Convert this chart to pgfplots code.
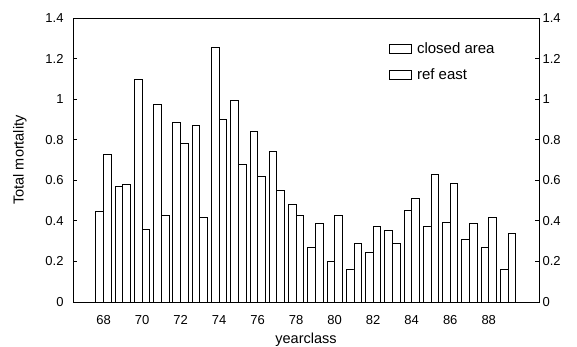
\documentclass[border=0pt]{standalone}
\usepackage{pgfplots}
\pgfplotsset{compat=1.18}
\usepackage{fontspec}
\setmainfont{Liberation Sans}
\pgfplotstableread{
year closed ref
68 0.448 0.728
69 0.568 0.577
70 1.097 0.357
71 0.973 0.427
72 0.883 0.782
73 0.871 0.418
74 1.253 0.898
75 0.995 0.679
76 0.843 0.618
77 0.741 0.550
78 0.481 0.427
79 0.268 0.385
80 0.201 0.427
81 0.160 0.288
82 0.242 0.371
83 0.351 0.288
84 0.453 0.509
85 0.371 0.631
86 0.392 0.583
87 0.310 0.385
88 0.268 0.418
89 0.160 0.338
}\mortality
\begin{document}
\begin{tikzpicture}
\path[use as bounding box] (0,0) rectangle (577bp,347bp);
\pgfplotsset{
  common/.style={
    at={(73bp,45bp)}, anchor=south west,
    scale only axis, width=466bp, height=284bp,
    xmin=66.41, xmax=90.61, ymin=0, ymax=1.4,
    ytick={0,0.2,0.4,0.6,0.8,1,1.2,1.4},
    /pgf/number format/assume math mode=true,
    tick label style={font=\fontsize{13bp}{15bp}\selectfont},
    axis line style={line width=0.9bp},
    tick style={line width=0.9bp, black},
    major tick length=4bp,
    tick align=inside,
  }
}
\begin{axis}[
  common,
  ytick pos=left,
  ybar=0pt, bar width=7.7bp,
  xtick={68,70,...,88},
  major x tick style={draw=none},
  xticklabel style={yshift=-6bp},
  yticklabel style={xshift=-6bp},
  xlabel={yearclass},
  ylabel={Total mortality},
  label style={font=\fontsize{14.5bp}{17bp}\selectfont},
  xlabel style={at={(axis description cs:0.5,-0.147)}, anchor=base},
  ylabel style={at={(axis description cs:-0.114,0.5)}, anchor=center},
  legend style={at={(axis description cs:0.678,0.922)}, anchor=north west,
    draw=none, fill=none, font=\fontsize{15bp}{18bp}\selectfont,
    row sep=10bp, column sep=3bp, inner sep=0pt},
  legend cell align=left,
  legend image code/.code={\draw[black, fill=white, line width=0.9bp] (0bp,-4.5bp) rectangle (22bp,4.5bp);},
]
\addplot[draw=black, fill=white, line width=0.9bp] table[x=year, y=closed] {\mortality};
\addplot[draw=black, fill=white, line width=0.9bp] table[x=year, y=ref] {\mortality};
\legend{closed area, ref east}
\end{axis}
\begin{axis}[
  common,
  hide x axis,
  axis y line*=right,
  yticklabel style={xshift=0bp},
]
\end{axis}
\end{tikzpicture}
\end{document}
